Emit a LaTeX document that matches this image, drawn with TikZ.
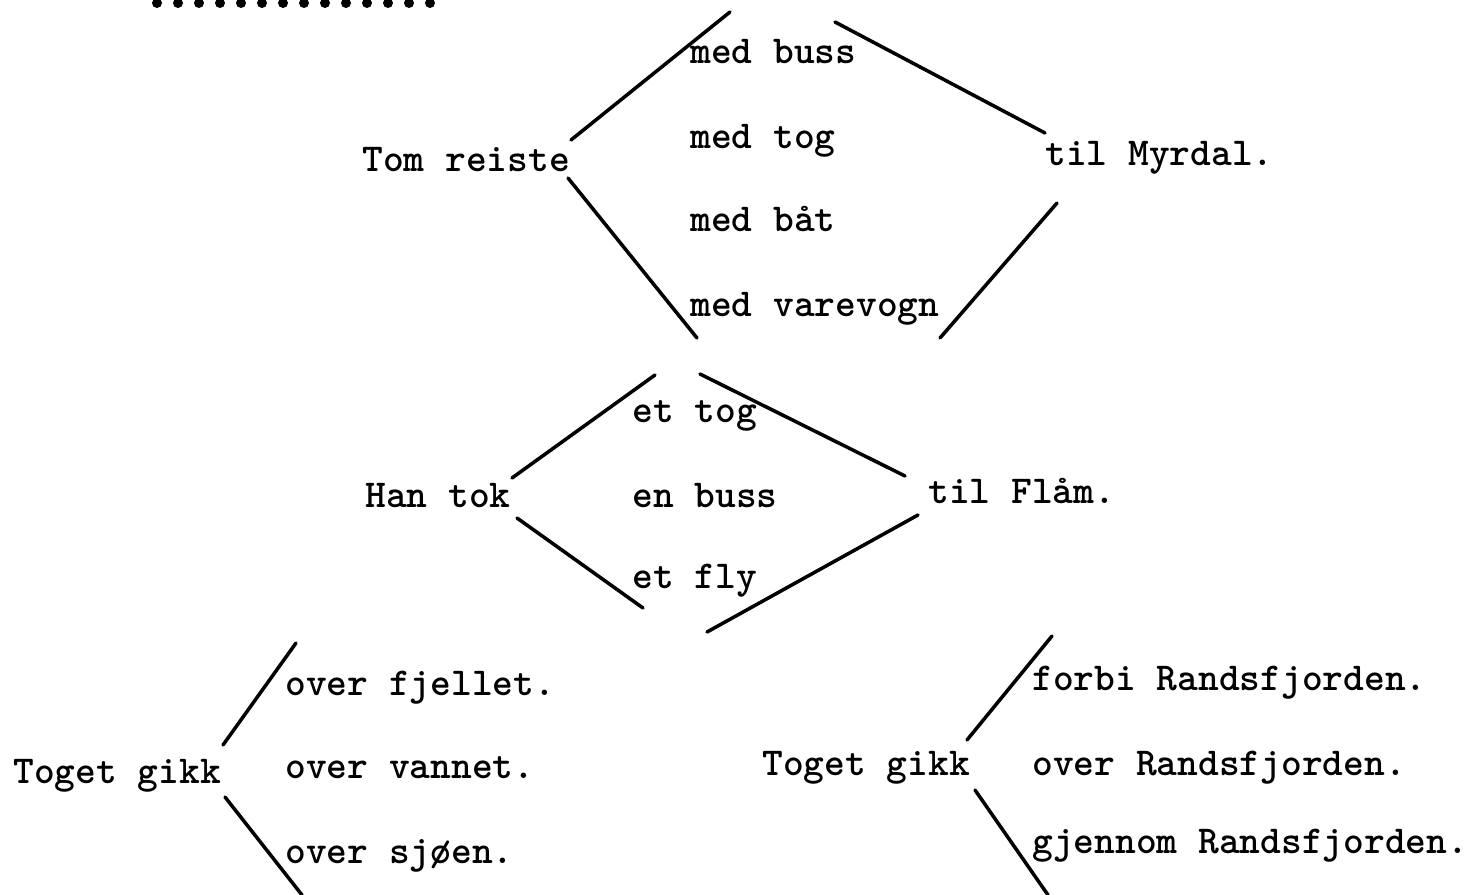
\documentclass[tikz,border=0pt]{standalone}
\usepackage{tikz}
\usetikzlibrary{positioning}
\tikzset{
    word/.style = {anchor=base west, inner sep=0pt, font=\ttfamily\bfseries\fontsize{22.5}{27}\selectfont},
    stroke/.style = {draw, line width=2pt, line cap=round},
}

\begin{document}
\begin{tikzpicture}[x=0.02cm, y=-0.02cm]
    \useasboundingbox (0,0) rectangle (1466,895);

    % row of typed dots at the top
    \foreach \i in {0,...,13}
        \fill (157+21*\i, 3) circle (5);

    % Tom reiste
    \node[word] (tom) at (362, 172) {Tom reiste};
    \node[word] (buss) at (690, 64) {med buss};
    \node[word] (tog) at (690, 149) {med tog};
    \node[word] (baat) at (690, 232) {med båt};
    \node[word] (varevogn) at (690, 316) {med varevogn};
    \node[word] (myrdal) at (1045, 166) {til Myrdal.};

    \coordinate (t1) at (571, 140);
    \coordinate (t2) at (730, 12);
    \coordinate (t3) at (835, 22);
    \coordinate (t4) at (1045, 133);
    \coordinate (t5) at (568, 178);
    \coordinate (t6) at (697, 338);
    \coordinate (t7) at (1057, 203);
    \coordinate (t8) at (940, 338);

    \draw[stroke] (t1) -- (t2);
    \draw[stroke] (t3) -- (t4);
    \draw[stroke] (t5) -- (t6);
    \draw[stroke] (t7) -- (t8);

    % Han tok
    \node[word] (han) at (365, 507) {Han tok};
    \node[word] (ettog) at (632, 422) {et tog};
    \node[word] (enbuss) at (632, 507) {en buss};
    \node[word] (etfly) at (632, 588) {et fly};
    \node[word] (flaam) at (928, 503) {til Flåm.};

    \coordinate (m1) at (512, 478);
    \coordinate (m2) at (655, 375);
    \coordinate (m3) at (700, 374);
    \coordinate (m4) at (905, 476);
    \coordinate (m5) at (517, 518);
    \coordinate (m6) at (643, 608);
    \coordinate (m7) at (918, 515);
    \coordinate (m8) at (707, 632);

    \draw[stroke] (m1) -- (m2);
    \draw[stroke] (m3) -- (m4);
    \draw[stroke] (m5) -- (m6);
    \draw[stroke] (m7) -- (m8);

    % Toget gikk (left)
    \node[word] (togetA) at (13, 783) {Toget gikk};
    \node[word] (fjellet) at (285, 695) {over fjellet.};
    \node[word] (vannet) at (285, 778) {over vannet.};
    \node[word] (sjoeen) at (285, 863) {over sjøen.};

    \coordinate (l1) at (223, 745);
    \coordinate (l2) at (296, 643);
    \coordinate (l3) at (225, 797);
    \coordinate (l4) at (302, 895);

    \draw[stroke] (l1) -- (l2);
    \draw[stroke] (l3) -- (l4);

    % Toget gikk (right)
    \node[word] (togetB) at (762, 775) {Toget gikk};
    \node[word] (forbi) at (1032, 690) {forbi Randsfjorden.};
    \node[word] (overR) at (1032, 775) {over Randsfjorden.};
    \node[word] (gjennom) at (1032, 853) {gjennom Randsfjorden.};

    \coordinate (r1) at (967, 740);
    \coordinate (r2) at (1052, 636);
    \coordinate (r3) at (975, 790);
    \coordinate (r4) at (1048, 895);

    \draw[stroke] (r1) -- (r2);
    \draw[stroke] (r3) -- (r4);
\end{tikzpicture}
\end{document}
